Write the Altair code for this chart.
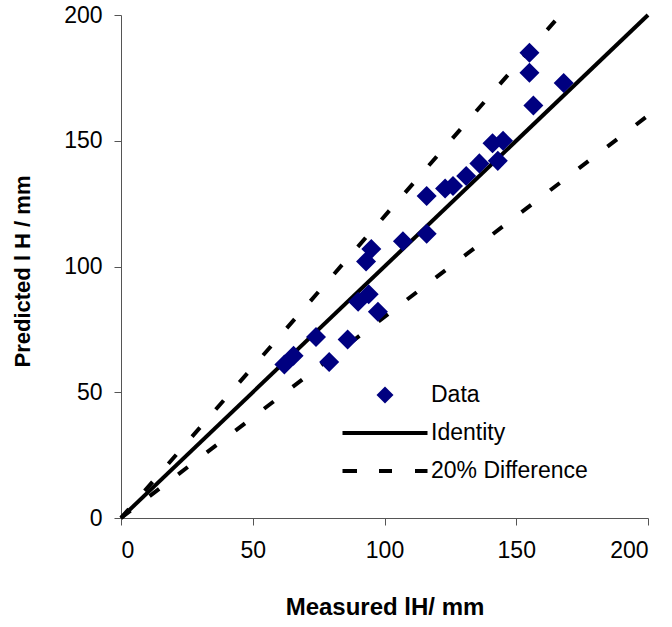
import altair as alt
import pandas as pd

# ---- data ----
measured = [62, 65.5, 74, 79, 86, 90, 94, 97.5, 93, 95, 107, 116, 116, 123, 126,
            131, 136, 141, 143, 145, 155, 155, 156.5, 168]
predicted = [61, 64.5, 72, 62, 71, 86, 89, 82, 102, 107, 110, 113, 128, 131, 132,
             136, 141, 149, 142, 150, 185, 177, 164, 173]

identity_x = [0, 200]
identity_y = [0, 200]
upper_x = [0, 166.7]
upper_y = [0, 200]
lower_x = [0, 200]
lower_y = [0, 160]

series_names = ["Data", "Identity", "20% Difference"]
ticks = [0, 50, 100, 150, 200]

pts = pd.DataFrame({"m": measured, "p": predicted, "series": "Data"})
ident = pd.DataFrame({"m": identity_x, "p": identity_y})
upper = pd.DataFrame({"m": upper_x, "p": upper_y, "g": "upper"})
lower = pd.DataFrame({"m": lower_x, "p": lower_y, "g": "lower"})
diff = pd.concat([upper, lower])

FONT = "Liberation Sans"
NAVY = "#000080"

xs = alt.Scale(domain=[0, 200], nice=False)
ys = alt.Scale(domain=[0, 200], nice=False)

x_axis = alt.Axis(values=ticks, title="Measured lH/ mm", grid=False,
                  titleY=89, titleBaseline="middle", titleFontSize=24)
y_axis = alt.Axis(values=ticks, title="Predicted l H / mm", grid=False,
                  titleX=-99, titleY=256, titleBaseline="middle", titleAngle=-90)

diamond = "M0,-0.85L0.85,0L0,0.85L-0.85,0Z"
solid = "M-4.25,0L4.25,0"
dashed = "M-4.25,0L-2.8,0M-0.6,0L0.7,0M3.0,0L4.25,0"

lines_diff = alt.Chart(diff).mark_line(
    color="black", strokeWidth=4, strokeDash=[12, 24], strokeCap="butt"
).encode(
    x=alt.X("m:Q", scale=xs, axis=x_axis),
    y=alt.Y("p:Q", scale=ys, axis=y_axis),
    detail="g:N",
)

line_id = alt.Chart(ident).mark_line(color="black", strokeWidth=4).encode(
    x=alt.X("m:Q", scale=xs),
    y=alt.Y("p:Q", scale=ys),
)

legend = alt.Legend(
    title=None, orient="none", legendX=219, legendY=368,
    labelFont=FONT, labelFontSize=23, labelColor="black",
    symbolSize=400, symbolStrokeWidth=4, symbolOffset=33,
    labelOffset=34, rowPadding=14, clipHeight=24,
)

points = alt.Chart(pts).mark_point(filled=True, size=555, opacity=1).encode(
    x=alt.X("m:Q", scale=xs),
    y=alt.Y("p:Q", scale=ys),
    fill=alt.Fill("series:N", scale=alt.Scale(domain=series_names,
                  range=[NAVY, "transparent", "transparent"]), legend=legend),
    stroke=alt.Stroke("series:N", scale=alt.Scale(domain=series_names,
                      range=["transparent", "black", "black"]), legend=legend),
    shape=alt.Shape("series:N", scale=alt.Scale(domain=series_names,
                    range=[diamond, solid, dashed]), legend=legend),
)

chart = alt.layer(lines_diff, line_id, points).properties(
    width=527, height=503,
    autosize=alt.AutoSizeParams(type="none"),
    padding={"left": 121, "top": 15, "right": 24, "bottom": 109},
).configure_view(stroke=None).configure_axis(
    labelFont=FONT, labelFontSize=23, labelColor="black",
    titleFont=FONT, titleFontSize=22, titleFontWeight="bold", titleColor="black",
    domainColor="#555555", domainWidth=1, tickColor="#555555", tickSize=7,
).configure_axisY(labelPadding=12).configure_axisX(labelPadding=14)

chart.save("out.html", embed_options={"renderer": "svg", "actions": False})
